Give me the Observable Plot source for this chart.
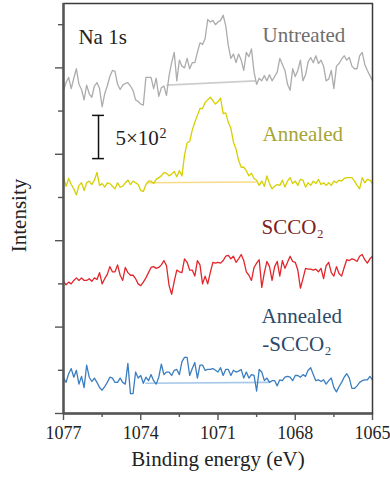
<!DOCTYPE html>
<html><head><meta charset="utf-8">
<script src="https://cdn.jsdelivr.net/npm/d3@7"></script>
<script src="https://cdn.jsdelivr.net/npm/@observablehq/plot@0.6"></script>
<style>
html,body{margin:0;padding:0;background:#fff;}
#chart svg, #chart svg text { font-family: "Liberation Serif", "DejaVu Serif", serif !important; }
</style>
</head><body><div id="chart"></div>
<script>
// Binding energy grid (eV)
const energy = [
1077,1076.9,1076.8,1076.7,1076.6,1076.5,1076.4,1076.3,1076.2,1076.1,
1076,1075.9,1075.8,1075.7,1075.6,1075.5,1075.4,1075.3,1075.2,1075.1,
1075,1074.9,1074.8,1074.7,1074.6,1074.5,1074.4,1074.3,1074.2,1074.1,
1074,1073.9,1073.8,1073.7,1073.6,1073.5,1073.4,1073.3,1073.2,1073.1,
1073,1072.9,1072.8,1072.7,1072.6,1072.5,1072.4,1072.3,1072.2,1072.1,
1072,1071.9,1071.8,1071.7,1071.6,1071.5,1071.4,1071.3,1071.2,1071.1,
1071,1070.9,1070.8,1070.7,1070.6,1070.5,1070.4,1070.3,1070.2,1070.1,
1070,1069.9,1069.8,1069.7,1069.6,1069.5,1069.4,1069.3,1069.2,1069.1,
1069,1068.9,1068.8,1068.7,1068.6,1068.5,1068.4,1068.3,1068.2,1068.1,
1068,1067.9,1067.8,1067.7,1067.6,1067.5,1067.4,1067.3,1067.2,1067.1,
1067,1066.9,1066.8,1066.7,1066.6,1066.5,1066.4,1066.3,1066.2,1066.1,
1066,1065.9,1065.8,1065.7,1065.6,1065.5,1065.4,1065.3,1065.2,1065.1,
1065];

// Intensities (counts, stacked with offsets)
const untreated = [
3740,3830,3890,3760,3880,3990,3810,3750,3630,3800,
3700,3660,3790,3830,3760,3550,3700,3790,3900,3970,
3960,3810,3750,3800,3820,3830,3790,3740,3630,3610,
3580,3570,3890,3890,3890,3760,3880,3670,3770,3790,
3680,3910,4060,4180,3850,4090,4020,4000,4110,3990,
4060,4060,4180,4290,4270,4340,4560,4530,4550,4500,
4530,4550,4610,4490,4260,4110,4160,4060,4160,4090,
3970,4180,4130,4220,3950,3810,3880,3850,3910,3850,
3920,3850,3900,3950,4110,4040,3970,3810,3740,3990,
3900,3970,4090,3850,3920,4070,4120,4060,4140,4050,
4090,4020,3850,3870,3970,3760,4020,4050,4100,4140,
4090,4120,4020,3990,3990,4140,4180,4040,3970,3910,
3850];
const annealed = [
2730,2630,2720,2650,2600,2530,2640,2670,2580,2670,
2690,2650,2700,2790,2640,2660,2620,2670,2660,2630,
2600,2670,2620,2630,2670,2700,2650,2690,2670,2650,
2580,2570,2650,2690,2690,2660,2710,2730,2750,2790,
2780,2750,2770,2800,2740,2810,2750,2990,3130,3150,
3280,3370,3450,3530,3530,3600,3630,3660,3620,3580,
3610,3650,3470,3480,3370,3300,3140,3060,2930,2850,
2850,2810,2750,2780,2720,2700,2640,2690,2630,2750,
2660,2600,2630,2650,2640,2700,2620,2690,2730,2660,
2690,2640,2710,2700,2620,2670,2640,2690,2660,2710,
2650,2670,2640,2670,2640,2690,2670,2700,2690,2720,
2730,2730,2730,2690,2640,2600,2730,2670,2710,2700,
2660];
const scco2 = [
1530,1490,1520,1500,1540,1570,1540,1570,1540,1540,
1560,1530,1570,1550,1630,1500,1560,1610,1700,1640,
1640,1720,1600,1540,1690,1630,1600,1600,1560,1500,
1480,1520,1570,1630,1690,1700,1680,1690,1720,1770,
1710,1480,1380,1530,1660,1640,1630,1790,1750,1660,
1660,1590,1770,1720,1500,1590,1500,1630,1750,1740,
1750,1740,1770,1820,1830,1790,1820,1750,1790,1840,
1770,1640,1600,1540,1690,1740,1780,1460,1630,1760,
1700,1540,1700,1760,1590,1770,1680,1750,1820,1760,
1750,1660,1450,1560,1680,1670,1670,1660,1670,1640,
1680,1560,1710,1750,1630,1590,1700,1620,1590,1690,
1780,1770,1790,1780,1760,1820,1840,1780,1740,1790,
1820];
const annealedScco2 = [
410,360,460,520,420,500,340,430,300,560,
420,370,410,360,300,270,310,360,420,410,
360,360,410,360,340,580,230,230,480,410,
440,350,420,380,450,380,340,420,570,450,
480,480,440,500,510,450,600,650,650,440,
520,590,410,560,560,500,510,510,520,500,
480,530,440,510,510,440,500,480,490,510,
410,480,410,450,440,260,510,480,380,410,
360,380,380,320,390,380,420,430,420,380,
440,440,420,450,430,500,530,450,380,390,
370,390,340,380,410,300,250,310,360,420,
460,410,290,290,320,360,380,390,390,430,
390];

const seriesNames = ["Untreated", "Annealed", "SCCO2", "Annealed-SCCO2"];
const seriesValues = [untreated, annealed, scco2, annealedScco2];

// Background baselines: start energy, start intensity, end energy, end intensity
const baselineSeries = ["Untreated", "Annealed", "Annealed-SCCO2"];
const baselineStartE = [1073.0, 1073.78, 1073.82];
const baselineStartI = [3800, 2670, 350];
const baselineEndE = [1069.54, 1069.5, 1069.0];
const baselineEndI = [3850, 2680, 360];

// Annotation labels
const labelTexts = ["Untreated", "Annealed", "SCCO₂", "Annealed", "-SCCO₂"];
const labelSeries = ["Untreated", "Annealed", "SCCO2", "Annealed-SCCO2", "Annealed-SCCO2"];
const labelE = [1069.27, 1069.27, 1069.31, 1069.31, 1069.28];
const labelI = [4380, 3234, 2157, 1131, 803];

const peakLabel = "Na 1s";
const peakLabelE = 1076.42, peakLabelI = 4360;

// Scale bar: 5×10² counts
const scaleBarE = 1075.64;
const scaleBarFrom = 2950, scaleBarTo = 3450;
const scaleBarCapHalf = 0.23;
const scaleBarText = "5×10";
const scaleBarExp = "2";
const scaleBarTextE = 1074.98, scaleBarTextI = 3187;
const scaleBarExpE = 1073.27, scaleBarExpI = 3235;

const xMajor = [1077, 1074, 1071, 1068, 1065];
const xMinor = [1075.5, 1072.5, 1069.5, 1066.5];
const yMajor = [0, 1000, 2000, 3000, 4000];
const yMinor = [500, 1500, 2500, 3500, 4500];
const xLabel = "Binding energy (eV)";
const yLabel = "Intensity";

// styles
const lineColors = {"Untreated": "#acacac", "Annealed": "#d6d000", "SCCO2": "#e2262b", "Annealed-SCCO2": "#3a7ec0"};
const textColors = {"Untreated": "#6e6e6e", "Annealed": "#a5a536", "SCCO2": "#7c2222", "Annealed-SCCO2": "#2b4a6a"};
const baseColors = {"Untreated": "#cdcdcd", "Annealed": "#f8db8a", "Annealed-SCCO2": "#a6c9ea"};

const rows = [];
seriesNames.forEach((s, k) => seriesValues[k].forEach((v, i) => rows.push({series: s, energy: energy[i], intensity: v})));
const baselines = baselineSeries.map((s, k) => ({series: s, e1: baselineStartE[k], i1: baselineStartI[k], e2: baselineEndE[k], i2: baselineEndI[k]}));
const labels = labelTexts.map((t, k) => ({text: t, series: labelSeries[k], energy: labelE[k], intensity: labelI[k]}));

const serif = "Liberation Serif";

const chart = Plot.plot({
  width: 390, height: 479,
  marginLeft: 63, marginRight: 18, marginTop: 3, marginBottom: 66,
  style: {fontFamily: serif, fontSize: "18px", color: "#222", background: "#fff"},
  x: {domain: [1077, 1065]},
  y: {domain: [0, 4745]},
  marks: [
    Plot.axisX({ticks: xMinor, tickSize: 4, tickFormat: () => "", label: null, stroke: "#555", strokeWidth: 1.4}),
    Plot.axisX({ticks: xMajor, tickSize: 7, tickPadding: 6, tickFormat: d => String(d), label: null, stroke: "#555", strokeWidth: 1.4, fill: "#222"}),
    Plot.axisY({ticks: yMinor, tickSize: 5, tickFormat: () => "", label: null, stroke: "#555", strokeWidth: 1.4}),
    Plot.axisY({ticks: yMajor, tickSize: 8, tickFormat: () => "", label: null, stroke: "#555", strokeWidth: 1.4}),
    Plot.link(baselines, {x1: "e1", y1: "i1", x2: "e2", y2: "i2", stroke: d => baseColors[d.series], strokeWidth: 1.6}),
    ...seriesNames.map(s => Plot.line(rows.filter(r => r.series === s), {x: "energy", y: "intensity", stroke: lineColors[s], strokeWidth: 1.3})),
    Plot.frame({stroke: "#3a3a3a", strokeWidth: 1.5}),
    Plot.ruleX([1077], {stroke: "#555", strokeWidth: 2.4}),
    Plot.ruleY([0], {stroke: "#555", strokeWidth: 2.4}),
    Plot.ruleX([scaleBarE], {y1: scaleBarFrom, y2: scaleBarTo, stroke: "#111", strokeWidth: 1.5}),
    Plot.ruleY([scaleBarFrom, scaleBarTo], {x1: scaleBarE + scaleBarCapHalf, x2: scaleBarE - scaleBarCapHalf, stroke: "#111", strokeWidth: 1.5}),
    Plot.text([scaleBarText], {x: scaleBarTextE, y: scaleBarTextI, textAnchor: "start", fontSize: 21, fill: "#222"}),
    Plot.text([scaleBarExp], {x: scaleBarExpE, y: scaleBarExpI, textAnchor: "start", fontSize: 14, fill: "#222"}),
    Plot.text([peakLabel], {x: peakLabelE, y: peakLabelI, textAnchor: "start", fontSize: 21, fill: "#222"}),
    Plot.text(labels, {x: "energy", y: "intensity", text: "text", textAnchor: "start", fontSize: 21, fill: d => textColors[d.series]}),
    Plot.text([xLabel], {frameAnchor: "bottom", lineAnchor: "middle", textAnchor: "middle", dy: 46, fontSize: 21, fill: "#222"}),
    Plot.text([yLabel], {frameAnchor: "left", lineAnchor: "middle", textAnchor: "middle", dx: -44, dy: 7, rotate: -90, fontSize: 21, fill: "#222"})
  ]
});
document.getElementById("chart").append(chart);
</script>
</body></html>
